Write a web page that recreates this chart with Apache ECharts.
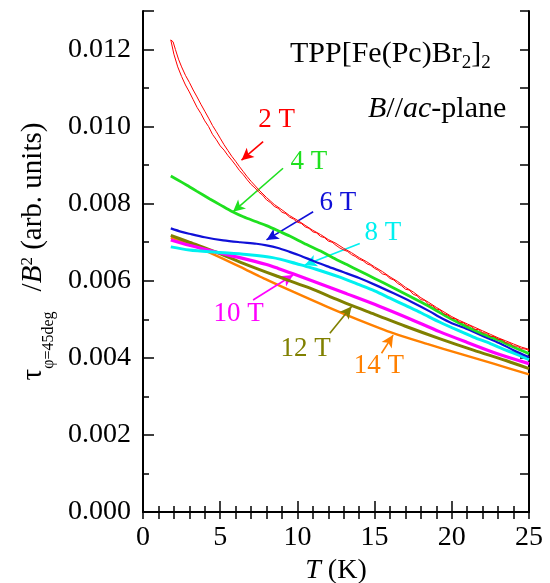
<!DOCTYPE html>
<html><head><meta charset="utf-8">
<script src="https://cdn.jsdelivr.net/npm/echarts@6/dist/echarts.min.js"></script>
<style>html,body{margin:0;padding:0;background:#fff}#c{width:550px;height:583px}</style>
</head><body><div id="c"></div>
<script>
// Temperature T (K) and torque tau/B^2 (arb. units) for each field
const red2T_branchA = [[1.8,0.01225],[2.0,0.01188],[2.25,0.01155],[2.5,0.01130],[2.75,0.01108],[3.0,0.01090],[3.25,0.01070],[3.5,0.01050],[3.75,0.01034],[4.0,0.01015],[4.25,0.01000],[4.5,0.00980],[4.75,0.00966],[5.0,0.00950],[5.25,0.00939],[5.5,0.00925],[5.75,0.00913],[6.0,0.00900],[6.25,0.00886],[6.5,0.00875],[6.75,0.00862],[7.0,0.00850],[7.25,0.00841],[7.5,0.00830],[7.75,0.00822],[8.0,0.00810],[8.25,0.00803],[8.5,0.00793],[8.75,0.00788],[9.0,0.00778],[9.25,0.00774],[9.5,0.00765],[9.75,0.00760],[10.0,0.00752],[10.25,0.00749],[10.5,0.00740],[10.75,0.00736],[11.0,0.00727],[11.25,0.00724],[11.5,0.00715],[11.75,0.00712],[12.0,0.00703],[12.25,0.00700],[12.5,0.00692],[12.75,0.00685],[13.0,0.00680],[13.25,0.00676],[13.5,0.00668],[13.75,0.00663],[14.0,0.00656],[14.25,0.00652],[14.5,0.00644],[14.75,0.00640],[15.0,0.00632],[15.25,0.00627],[15.5,0.00618],[15.75,0.00615],[16.0,0.00606],[16.25,0.00602],[16.5,0.00593],[16.75,0.00587],[17.0,0.00578],[17.25,0.00576],[17.5,0.00565],[17.75,0.00561],[18.0,0.00551],[18.25,0.00549],[18.5,0.00539],[18.75,0.00535],[19.0,0.00527],[19.25,0.00524],[19.5,0.00514],[19.75,0.00511],[20.0,0.00503],[20.25,0.00501],[20.5,0.00493],[20.75,0.00491],[21.0,0.00484],[21.25,0.00482],[21.5,0.00474],[21.75,0.00473],[22.0,0.00465],[22.25,0.00464],[22.5,0.00456],[22.75,0.00455],[23.0,0.00448],[23.25,0.00447],[23.5,0.00439],[23.75,0.00438],[24.0,0.00431],[24.25,0.00430],[24.5,0.00424],[24.75,0.00423],[25.0,0.00419]];
const red2T_branchB = [[1.8,0.01225],[1.95,0.01220],[2.1,0.01200],[2.3,0.01175],[2.5,0.01155],[2.75,0.01133],[3.0,0.01115],[3.25,0.01095],[3.5,0.01077],[3.75,0.01058],[4.0,0.01040],[4.25,0.01022],[4.5,0.01003],[4.75,0.00987],[5.0,0.00970],[5.25,0.00953],[5.5,0.00938],[5.75,0.00923],[6.0,0.00910],[6.25,0.00896],[6.5,0.00883],[6.75,0.00870],[7.0,0.00858],[7.5,0.00836],[8.0,0.00816],[8.5,0.00798],[9.0,0.00784],[9.5,0.00769],[10.0,0.00757],[10.5,0.00744],[11.0,0.00731],[11.5,0.00720],[12.0,0.00707],[12.5,0.00697],[13.0,0.00684],[13.5,0.00673],[14.0,0.00660],[14.5,0.00649],[15.0,0.00636],[15.5,0.00624],[16.0,0.00610],[16.5,0.00598],[17.0,0.00583],[17.5,0.00571],[18.0,0.00556],[18.5,0.00544],[19.0,0.00531],[19.5,0.00519],[20.0,0.00507],[20.5,0.00497],[21.0,0.00488],[21.5,0.00479],[22.0,0.00470],[22.5,0.00461],[23.0,0.00452],[23.5,0.00444],[24.0,0.00436],[24.5,0.00428],[25.0,0.00422]];
const green4T = [[1.8,0.00872],[2.5,0.00856],[3.0,0.00844],[3.5,0.00832],[4.3,0.00813],[5.0,0.00797],[5.8,0.00779],[6.5,0.00766],[7.35,0.00753],[8.0,0.00743],[8.9,0.00727],[9.5,0.00716],[10.6,0.00694],[11.5,0.00677],[12.3,0.00660],[13.2,0.00642],[14.0,0.00626],[15.0,0.00606],[16.2,0.00582],[17.4,0.00557],[18.6,0.00532],[19.2,0.00518],[20.0,0.00500],[21.0,0.00480],[22.0,0.00462],[23.1,0.00445],[24.0,0.00428],[25.0,0.00411]];
const blue6T = [[1.8,0.00736],[2.5,0.00727],[3.0,0.00722],[4.0,0.00713],[5.2,0.00705],[6.3,0.00700],[7.35,0.00696],[8.0,0.00692],[8.75,0.00685],[9.5,0.00675],[10.2,0.00665],[11.0,0.00652],[11.9,0.00638],[13.0,0.00622],[14.0,0.00607],[15.0,0.00590],[16.2,0.00568],[17.4,0.00545],[18.6,0.00520],[19.2,0.00506],[20.0,0.00490],[20.8,0.00478],[22.0,0.00457],[23.1,0.00438],[24.0,0.00420],[25.0,0.00402]];
const cyan8T = [[1.8,0.00688],[3.0,0.00680],[4.76,0.00674],[6.7,0.00668],[8.4,0.00660],[9.9,0.00645],[10.5,0.00638],[11.2,0.00630],[12.7,0.00610],[14.0,0.00590],[15.0,0.00574],[16.0,0.00555],[17.0,0.00536],[18.0,0.00517],[19.2,0.00493],[20.3,0.00473],[21.4,0.00454],[22.5,0.00437],[23.5,0.00420],[24.3,0.00408],[25.0,0.00395]];
const magenta10T = [[1.8,0.00706],[3.0,0.00692],[4.76,0.00674],[6.27,0.00660],[8.0,0.00642],[8.75,0.00632],[9.72,0.00618],[11.2,0.00596],[13.2,0.00566],[15.3,0.00534],[17.3,0.00501],[19.2,0.00468],[21.0,0.00440],[23.0,0.00410],[25.0,0.00385]];
const olive12T = [[1.8,0.00718],[3.0,0.00700],[4.76,0.00674],[6.7,0.00642],[8.75,0.00611],[10.6,0.00584],[12.0,0.00561],[13.5,0.00536],[15.0,0.00513],[17.0,0.00482],[19.2,0.00450],[21.4,0.00420],[23.5,0.00393],[25.0,0.00372]];
const orange14T = [[1.8,0.00712],[3.0,0.00696],[4.5,0.00670],[6.3,0.00636],[7.56,0.00611],[8.0,0.00603],[9.75,0.00571],[11.9,0.00533],[14.0,0.00498],[16.2,0.00464],[18.4,0.00436],[20.5,0.00411],[22.7,0.00385],[25.0,0.00357]];

// Axis ranges and tick steps
const xRange = [0, 25];
const yRange = [0, 0.013];
const xMajor = 5, xTop = 1, yMajor = 0.002, yMinor = 0.001;

// Field labels and arrows (data coordinates)
const fieldLabels = ['2 T','4 T','6 T','8 T','10 T','12 T','14 T'];
const labelAt = [[8.66,0.01017],[10.74,0.00908],[12.62,0.00802],[15.53,0.00724],[6.2,0.00514],[10.54,0.00423],[15.27,0.00379]];
const arrowFrom = [[7.78,0.00961],[9.07,0.00892],[11.02,0.00779],[14.04,0.00697],[7.13,0.00550],[12.1,0.00464],[15.45,0.00412]];
const arrowTo = [[6.38,0.00913],[5.83,0.00779],[8.0,0.00706],[10.48,0.00641],[9.72,0.00615],[13.51,0.00533],[16.2,0.00459]];

const colors = ['#ff0000','#1fe01f','#1010d8','#00f0f0','#ff00ff','#808000','#ff8000'];
const widths = [1,2.8,2.2,3,3.2,3,2.4];
const curves = [red2T_branchA, green4T, blue6T, cyan8T, magenta10T, olive12T, orange14T];

const FF = 'Liberation Serif, Times New Roman, serif';
const chart = echarts.init(document.getElementById('c'));

const series = curves.map((d, i) => ({
  type: 'line', data: d, showSymbol: false, smooth: i === 0 ? false : 0.3,
  lineStyle: {color: colors[i], width: widths[i]}, itemStyle: {color: colors[i]},
  z: 10 - i, silent: true, animation: false,
  markLine: {
    silent: true, animation: false, symbol: ['none','arrow'], symbolSize: [9, 12],
    lineStyle: {color: colors[i], width: 1.6, type: 'solid'}, label: {show: false},
    data: [[{coord: arrowFrom[i]}, {coord: arrowTo[i]}]]
  },
  markPoint: {
    silent: true, animation: false, symbol: 'rect', symbolSize: 1,
    itemStyle: {color: 'rgba(0,0,0,0)'},
    label: {show: true, position: 'inside', formatter: fieldLabels[i], color: colors[i], fontSize: 27, fontFamily: FF},
    data: [{coord: labelAt[i]}]
  }
}));
series.push({
  type: 'line', data: red2T_branchB, showSymbol: false, silent: true, animation: false,
  lineStyle: {color: colors[0], width: 1}, z: 10
});

const axisLine = {show: true, lineStyle: {color: '#000', width: 2}};
const lbl = {color: '#000', fontSize: 28, fontFamily: FF};
const mainTok = {fontSize: 29, fontFamily: FF, color: '#000', lineHeight: 30, verticalAlign: 'top'};

chart.setOption({
  animation: false,
  backgroundColor: '#fff',
  grid: {left: 143, right: 21, top: 11, bottom: 71, containLabel: false, outerBoundsMode: 'none'},
  xAxis: [
    {type: 'value', min: xRange[0], max: xRange[1], interval: xMajor, position: 'bottom',
     axisLine, splitLine: {show: false},
     axisTick: {inside: true, length: 11, lineStyle: {color: '#000', width: 1.5}},
     minorTick: {show: true, splitNumber: 5, length: 6, lineStyle: {color: '#000', width: 1.5}},
     axisLabel: Object.assign({margin: 12}, lbl),
     name: '{i|T} (K)', nameLocation: 'middle', nameGap: 31,
     nameTextStyle: {color: '#000', fontSize: 28, fontFamily: FF,
       rich: {i: {fontStyle: 'italic', fontSize: 28, fontFamily: FF, color: '#000'}}}},
    {type: 'value', min: xRange[0], max: xRange[1], interval: xTop, position: 'top',
     axisLine, splitLine: {show: false}, axisLabel: {show: false},
     axisTick: {inside: true, length: 7, lineStyle: {color: '#000', width: 1.5}}}
  ],
  yAxis: [
    {type: 'value', min: yRange[0], max: yRange[1], interval: yMajor, position: 'left',
     axisLine, splitLine: {show: false},
     axisTick: {inside: true, length: 11, lineStyle: {color: '#000', width: 1.5}},
     axisLabel: Object.assign({margin: 12, formatter: v => (Math.round(v * 1000) % 2 === 0 ? v.toFixed(3) : '')}, lbl),
     name: '{t|τ}{s|φ=45deg}{sl|/}{i|B}{p|2}{n| (arb. units)}',
     nameLocation: 'middle', nameRotate: 90, nameGap: 63,
     nameTextStyle: {color: '#000', fontFamily: FF, fontSize: 29, padding: [0, 0, 0, 20],
       rich: {
         t: mainTok,
         s: {fontSize: 16, fontFamily: FF, color: '#000', lineHeight: 61, verticalAlign: 'middle'},
         sl: Object.assign({}, mainTok, {padding: [0, 0, 0, 20]}),
         n: mainTok,
         i: Object.assign({}, mainTok, {fontStyle: 'italic'}),
         p: {fontSize: 17, fontFamily: FF, color: '#000', lineHeight: 14, verticalAlign: 'top'}
       }}},
    {type: 'value', min: yRange[0], max: yRange[1], interval: yMinor, position: 'left',
     axisLine: {show: false}, splitLine: {show: false}, axisLabel: {show: false},
     axisTick: {inside: true, length: 6, lineStyle: {color: '#000', width: 1.5}}},
    {type: 'value', min: yRange[0], max: yRange[1], interval: yMinor, position: 'right',
     axisLine, splitLine: {show: false}, axisLabel: {show: false},
     axisTick: {inside: true, length: 9, lineStyle: {color: '#000', width: 1.5}}}
  ],
  graphic: [
    {type: 'text', x: 290, y: 39, silent: true, style: {
      text: '{m|TPP[Fe(Pc)Br}{s|2}{m|]}{s|2}', fill: '#000', fontSize: 30, fontFamily: FF,
      rich: {
        m: {fontSize: 30, fontFamily: FF, fill: '#000', lineHeight: 31, verticalAlign: 'top'},
        s: {fontSize: 19, fontFamily: FF, fill: '#000', lineHeight: 48, verticalAlign: 'middle'}
      }}},
    {type: 'text', x: 368, y: 94, silent: true, style: {
      text: '{i|B}//{i|ac}-plane', fill: '#000', fontSize: 30, fontFamily: FF,
      rich: {i: {fontStyle: 'italic', fontSize: 30, fontFamily: FF, fill: '#000'}}}}
  ],
  series
});
</script></body></html>
